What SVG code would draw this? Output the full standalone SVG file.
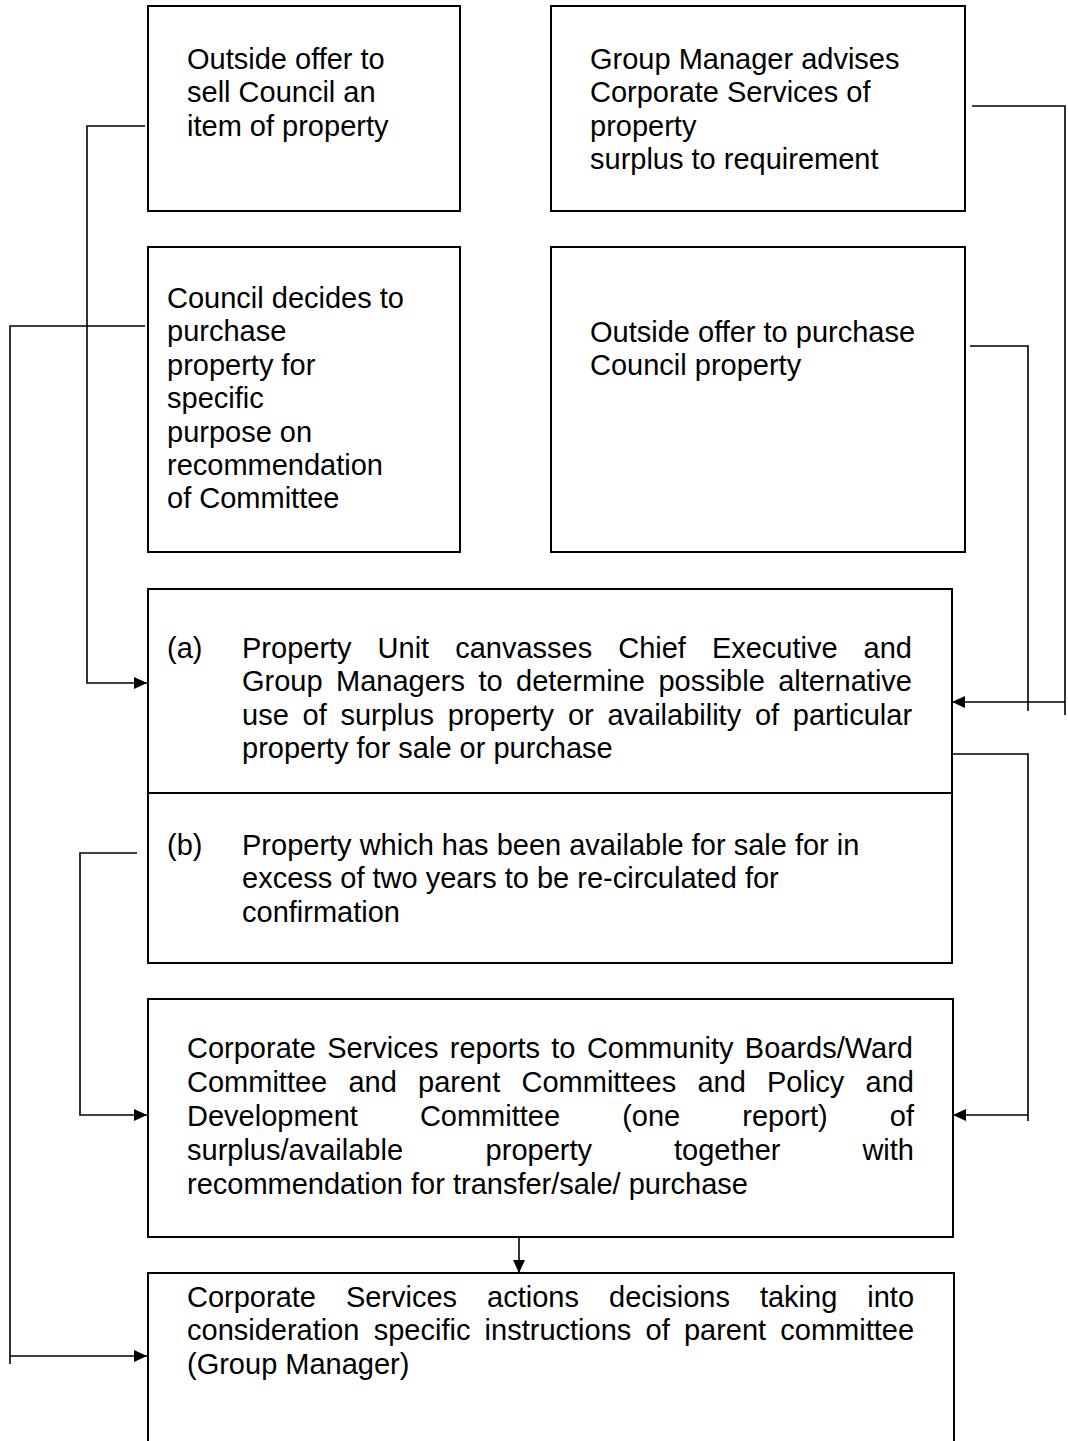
<svg xmlns="http://www.w3.org/2000/svg" width="1068" height="1441" viewBox="0 0 1068 1441">
<style>
.box{fill:#fff;stroke:#000;stroke-width:2}
.t{font-family:"Liberation Sans",Arial,sans-serif;font-size:29px;fill:#000}
.c{fill:none;stroke:#000;stroke-width:1.6}
</style>
<defs>
<marker id="ah" markerUnits="userSpaceOnUse" markerWidth="14" markerHeight="12" refX="13" refY="6" orient="auto">
<path d="M0,0 L13,6 L0,12 Z" fill="#000"/>
</marker>
</defs>
<rect width="1068" height="1441" fill="#fff"/>

<g id="n1">
<rect class="box" x="148" y="6" width="312" height="205"/>
<text class="t"><tspan x="187" y="69">Outside offer to</tspan><tspan x="187" y="102.4">sell Council an</tspan><tspan x="187" y="135.8">item of property</tspan></text>
</g>

<g id="n2">
<rect class="box" x="551" y="6" width="414" height="205"/>
<text class="t"><tspan x="590" y="69">Group Manager advises</tspan><tspan x="590" y="102.4">Corporate Services of</tspan><tspan x="590" y="135.8">property</tspan><tspan x="590" y="169.2">surplus to requirement</tspan></text>
</g>

<g id="n3">
<rect class="box" x="148" y="247" width="312" height="305"/>
<text class="t"><tspan x="167" y="308">Council decides to</tspan><tspan x="167" y="341.4">purchase</tspan><tspan x="167" y="374.8">property for</tspan><tspan x="167" y="408.2">specific</tspan><tspan x="167" y="441.6">purpose on</tspan><tspan x="167" y="475">recommendation</tspan><tspan x="167" y="508.4">of Committee</tspan></text>
</g>

<g id="n4">
<rect class="box" x="551" y="247" width="414" height="305"/>
<text class="t"><tspan x="590" y="342">Outside offer to purchase</tspan><tspan x="590" y="375.4">Council property</tspan></text>
</g>

<g id="n5">
<rect class="box" x="148" y="589" width="804" height="374"/>
<line x1="148" y1="793" x2="952" y2="793" stroke="#000" stroke-width="2"/>
<text class="t" x="167" y="658">(a)</text>
<text class="t"><tspan x="242" y="658">Property</tspan><tspan x="377.6" y="658">Unit</tspan><tspan x="455.2" y="658">canvasses</tspan><tspan x="618.2" y="658">Chief</tspan><tspan x="711.9" y="658">Executive</tspan><tspan x="863.6" y="658">and</tspan></text>
<text class="t"><tspan x="242" y="691.4">Group</tspan><tspan x="336" y="691.4">Managers</tspan><tspan x="478.4" y="691.4">to</tspan><tspan x="516" y="691.4">determine</tspan><tspan x="658.4" y="691.4">possible</tspan><tspan x="778.2" y="691.4">alternative</tspan></text>
<text class="t"><tspan x="242" y="724.8">use</tspan><tspan x="302.5" y="724.8">of</tspan><tspan x="340.4" y="724.8">surplus</tspan><tspan x="447.7" y="724.8">property</tspan><tspan x="567.9" y="724.8">or</tspan><tspan x="607.4" y="724.8">availability</tspan><tspan x="754.9" y="724.8">of</tspan><tspan x="792.8" y="724.8">particular</tspan></text>
<text class="t" x="242" y="758.2">property for sale or purchase</text>
<text class="t" x="167" y="855">(b)</text>
<text class="t"><tspan x="242" y="855">Property which has been available for sale for in</tspan><tspan x="242" y="888.4">excess of two years to be re-circulated for</tspan><tspan x="242" y="921.8">confirmation</tspan></text>
</g>

<g id="n6">
<rect class="box" x="148" y="999" width="805" height="238"/>
<text class="t"><tspan x="187" y="1058">Corporate</tspan><tspan x="327.2" y="1058">Services</tspan><tspan x="449.8" y="1058">reports</tspan><tspan x="551.3" y="1058">to</tspan><tspan x="586.9" y="1058">Community</tspan><tspan x="744.8" y="1058">Boards/Ward</tspan></text>
<text class="t"><tspan x="187" y="1092">Committee</tspan><tspan x="348.4" y="1092">and</tspan><tspan x="418" y="1092">parent</tspan><tspan x="521.5" y="1092">Committees</tspan><tspan x="697.4" y="1092">and</tspan><tspan x="767" y="1092">Policy</tspan><tspan x="865.6" y="1092">and</tspan></text>
<text class="t"><tspan x="187" y="1126">Development</tspan><tspan x="419.9" y="1126">Committee</tspan><tspan x="622.2" y="1126">(one</tspan><tspan x="742.3" y="1126">report)</tspan><tspan x="889.8" y="1126">of</tspan></text>
<text class="t"><tspan x="187" y="1160">surplus/available</tspan><tspan x="485.6" y="1160">property</tspan><tspan x="674" y="1160">together</tspan><tspan x="862.4" y="1160">with</tspan></text>
<text class="t" x="187" y="1194">recommendation for transfer/sale/ purchase</text>
</g>

<g id="n7">
<path d="M148,1441 V1273 H954 V1441" fill="#fff" stroke="#000" stroke-width="2"/>
<text class="t"><tspan x="187" y="1307">Corporate</tspan><tspan x="345.9" y="1307">Services</tspan><tspan x="487.1" y="1307">actions</tspan><tspan x="609" y="1307">decisions</tspan><tspan x="759.9" y="1307">taking</tspan><tspan x="867.3" y="1307">into</tspan></text>
<text class="t"><tspan x="187" y="1340.4">consideration</tspan><tspan x="373.7" y="1340.4">specific</tspan><tspan x="484.6" y="1340.4">instructions</tspan><tspan x="645.5" y="1340.4">of</tspan><tspan x="683.9" y="1340.4">parent</tspan><tspan x="780.3" y="1340.4">committee</tspan></text>
<text class="t" x="187" y="1373.8">(Group Manager)</text>
</g>

<g id="connectors">
<path class="c" d="M145,126 H87 V683 H147" marker-end="url(#ah)"/>
<path class="c" d="M145,326 H10 V1364"/>
<path class="c" d="M10,1356 H147" marker-end="url(#ah)"/>
<path class="c" d="M972,106 H1065 V715"/>
<path class="c" d="M1065,702 H952" marker-end="url(#ah)"/>
<path class="c" d="M970,346 H1028 V711"/>
<path class="c" d="M952,754 H1028 V1121"/>
<path class="c" d="M1028,1115 H953" marker-end="url(#ah)"/>
<path class="c" d="M137,853 H80 V1115 H147" marker-end="url(#ah)"/>
<path class="c" d="M519,1237 V1273" marker-end="url(#ah)"/>
</g>
</svg>
